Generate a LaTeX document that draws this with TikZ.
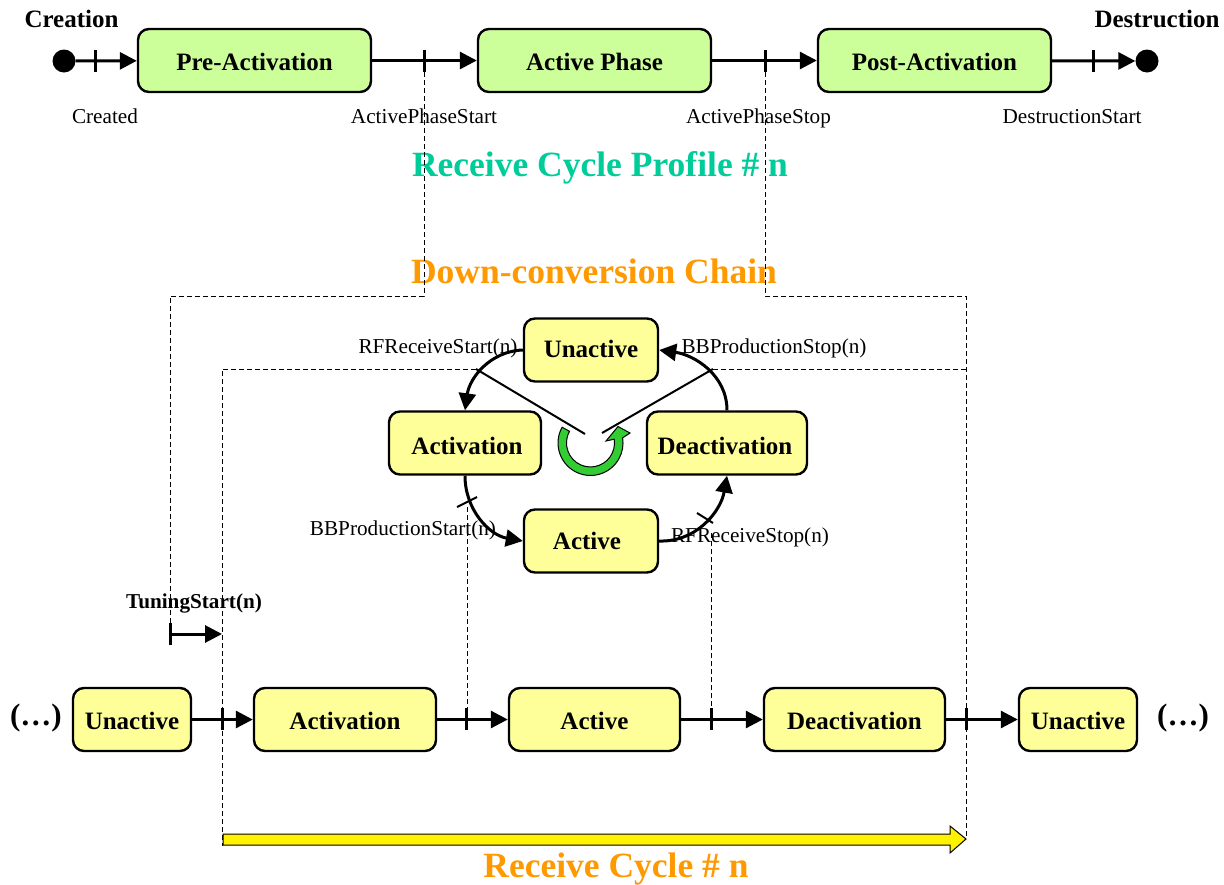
\documentclass[tikz,border=0pt]{standalone}
\usepackage{fontspec}
\setmainfont{Liberation Serif}
\usetikzlibrary{arrows.meta}
\definecolor{stategreen}{HTML}{CCFF99}
\definecolor{stateyellow}{HTML}{FFFF99}
\definecolor{profilegreen}{HTML}{00CC99}
\definecolor{chainorange}{HTML}{FF9900}
\definecolor{ringgreen}{HTML}{33CC33}
\tikzset{>={Triangle[length=17pt,width=17pt]}}
\tikzset{
    statebox/.style={draw, line width=2.4pt, rounded corners=11pt, font=\fontsize{25}{28}\selectfont\bfseries, inner sep=0pt, minimum height=63pt, text height=20.5pt, text depth=0pt},
    phase/.style={statebox, fill=stategreen, minimum width=233pt},
    mode/.style={statebox, fill=stateyellow},
    flow/.style={->, line width=3pt},
    tickmark/.style={line width=3pt},
    bound/.style={dash pattern=on 5pt off 3pt, line width=0.8pt},
    small/.style={anchor=base, font=\fontsize{21.2}{24}\selectfont},
    heading/.style={anchor=base, font=\fontsize{25}{28}\selectfont\bfseries},
    title/.style={anchor=base, font=\fontsize{35.5}{40}\selectfont\bfseries},
    dotted paren/.style={anchor=base, font=\fontsize{31}{34}\selectfont\bfseries}
}

\begin{document}
\begin{tikzpicture}[x=1pt, y=-1pt]
    \useasboundingbox (0,0) rectangle (1224,884);
    % top row
    \node[phase] (pre) at (254.5,60.5) {Pre-Activation};
    \node[phase] (phase) at (594.5,60.5) {Active Phase};
    \node[phase] (post) at (934.5,60.5) {Post-Activation};
    \node[circle, fill=black, inner sep=0pt, minimum size=23pt] (start) at (64,61) {};
    \node[circle, fill=black, inner sep=0pt, minimum size=23pt] (stop) at (1147,61) {};
    \draw[flow] (start) -- (pre);
    \draw[flow] (pre) -- (phase);
    \draw[flow] (phase) -- (post);
    \draw[flow] (post) -- (stop);
    \foreach \x in {95,424,765,1093}
    \draw[tickmark] (\x,50) -- (\x,72);
    \node[heading] (creation) at (71.5,27) {Creation};
    \node[heading] (destruction) at (1157,27) {Destruction};
    \node[small] (created) at (105,123) {Created};
    \node[small] (phasestart) at (424,123) {ActivePhaseStart};
    \node[small] (phasestop) at (758.5,123) {ActivePhaseStop};
    \node[small] (deststart) at (1072,123) {DestructionStart};
    \node[title, text=profilegreen] (profile) at (600,176) {Receive Cycle Profile \# n};
    \node[title, text=chainorange] (chain) at (594,283) {Down-conversion Chain};
    % dashed boundaries
    \coordinate (A) at (424,72);
    \coordinate (B) at (765,72);
    \coordinate (C) at (170,623);
    \coordinate (D) at (966,839);
    \coordinate (E) at (222,846);
    \coordinate (F) at (476,369);
    \coordinate (G) at (713,369);
    \draw[bound] (A) -- (424,296) -- (170,296) -- (C);
    \draw[bound] (B) -- (765,296) -- (966,296) -- (D);
    \draw[bound] (F) -- (222,369) -- (E);
    \draw[bound] (G) -- (966,369);
    \draw[bound] (467,507) -- (467,708);
    \draw[bound] (711,533) -- (711,708);
    % cycle
    \node[mode, minimum width=134pt, text height=15pt] (cunactive) at (591,350) {Unactive};
    \node[mode, minimum width=152pt, text height=23pt] (cactivation) at (465,443) {\kern4pt Activation};
    \node[mode, minimum width=160pt, text height=23pt] (cdeactivation) at (727,443) {\kern-4pt Deactivation};
    \node[mode, minimum width=134pt, text height=16.5pt] (cactive) at (591,541) {\kern-8pt Active};
    \draw[flow] (cunactive.west) to[out=182, in=82] (cactivation.north);
    \draw[flow] (cdeactivation.north) to[out=90, in=-8] (cunactive.east);
    \draw[flow] (cactivation.south) to[out=-90, in=170] (cactive.west);
    \draw[flow] (cactive.east) to[out=-2, in=-100] (cdeactivation.south);
    \draw[line width=2pt] (457,507) -- (477,497);
    \draw[line width=2pt] (697,513) -- (713,523);
    \draw[fill=ringgreen, line width=1pt] (562.1,427.2) arc[start angle=209, end angle=-9, radius=32.5] -- (630,433) -- (618,426.5) -- (606,441) -- (614.2,439.2) arc[start angle=-9, end angle=209, radius=24] -- cycle;
    \draw[line width=2pt] (F) -- (585,434);
    \draw[line width=2pt] (G) -- (602,433);
    \node[small] (rfstart) at (438,353) {RFReceiveStart(n)};
    \node[small] (bbstop) at (774,353) {BBProductionStop(n)};
    \node[small] (bbstart) at (403,535) {BBProductionStart(n)};
    \node[small] (rfstop) at (750,542) {RFReceiveStop(n)};
    % bottom row
    \node[mode, minimum width=118pt] (unactivea) at (132,719.5) {Unactive};
    \node[mode, minimum width=182pt] (activation) at (345,719.5) {Activation};
    \node[mode, minimum width=171pt] (active) at (594.5,719.5) {Active};
    \node[mode, minimum width=181pt] (deactivation) at (854.5,719.5) {Deactivation};
    \node[mode, minimum width=118pt] (unactiveb) at (1078,719.5) {Unactive};
    \draw[flow] (unactivea) -- (activation);
    \draw[flow] (activation) -- (active);
    \draw[flow] (active) -- (deactivation);
    \draw[flow] (deactivation) -- (unactiveb);
    \foreach \x in {222,466,711,966}
    \draw[tickmark] (\x,708) -- (\x,730);
    \node[dotted paren] (dotsa) at (36,725.5) {(\dots)};
    \node[dotted paren] (dotsb) at (1183,725.5) {(\dots)};
    % tuning
    \node[anchor=base, font=\fontsize{21.2}{24}\selectfont\bfseries] (tuning) at (194,608) {TuningStart(n)};
    \coordinate (T) at (222,634);
    \draw[flow] (170,634) -- (T);
    \draw[tickmark] (C) -- (170,645);
    % receive cycle
    \draw[fill=yellow, line width=1pt] (223,834) -- (950,834) -- (950,826) -- (D) -- (950,853) -- (950,845) -- (223,845) -- cycle;
    \node[title, text=chainorange] (cycle) at (616,877) {Receive Cycle \# n};
\end{tikzpicture}
\end{document}
